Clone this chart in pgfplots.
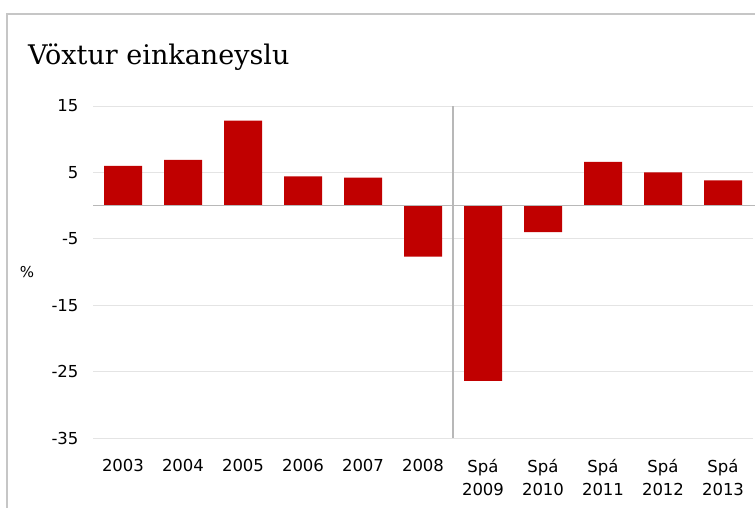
\documentclass[border=0pt]{standalone}
\usepackage{fontspec}
\setmainfont{DejaVu Sans}
\newfontfamily\titlefont{DejaVu Serif}
\usepackage{pgfplots}
\pgfplotsset{compat=1.18}
\definecolor{barred}{HTML}{C00000}
\definecolor{gridgray}{HTML}{E4E4E4}
\definecolor{framegray}{HTML}{C6C6C6}
\definecolor{zerogray}{HTML}{B8B8B8}

\begin{document}
\begin{tikzpicture}[x=1pt,y=1pt]
\path[use as bounding box] (0,0) rectangle (755,-508);
% frame
\draw[framegray,line width=2.5pt] (7,-510) -- (7,-14) -- (760,-14);
% title
\node[anchor=base west,inner sep=0pt,font=\titlefont\fontsize{27}{30}\selectfont] at (28,-65) {Vöxtur einkaneyslu};

\begin{axis}[
    at={(93pt,-438pt)}, anchor=south west,
    scale only axis, width=660pt, height=332pt,
    xmin=-0.5, xmax=10.5, ymin=-35, ymax=15,
    ytick={-35,-25,-15,-5,5,15},
    xtick={0,...,10},
    xticklabels={2003,2004,2005,2006,2007,2008,Spá\\2009,Spá\\2010,Spá\\2011,Spá\\2012,Spá\\2013},
    xticklabel style={align=center,font=\fontsize{16.5}{23}\selectfont,yshift=-18pt},
    yticklabel style={font=\fontsize{16.5}{20}\selectfont,xshift=-11pt},
    /pgf/number format/assume math mode=true,
    major tick length=0pt,
    axis line style={draw=none},
    ymajorgrids, grid style={gridgray,line width=1pt},
    ylabel={\%},
    ylabel style={rotate=-90,at={(axis description cs:-0.1,0.5)},anchor=center,font=\fontsize{15}{18}\selectfont},
    ybar, bar width=38pt,
    clip=false,
]
\addplot[fill=barred,draw=none] coordinates {
    (0,6.0) (1,6.9) (2,12.8) (3,4.4) (4,4.2) (5,-7.7)
    (6,-26.4) (7,-4.0) (8,6.6) (9,5.0) (10,3.8)
};
\draw[zerogray,line width=1pt] (axis cs:-0.5,0) -- (axis cs:10.55,0);
\draw[zerogray,line width=1.2pt] (axis cs:5.5,-35) -- (axis cs:5.5,15);
\end{axis}
\end{tikzpicture}
\end{document}
